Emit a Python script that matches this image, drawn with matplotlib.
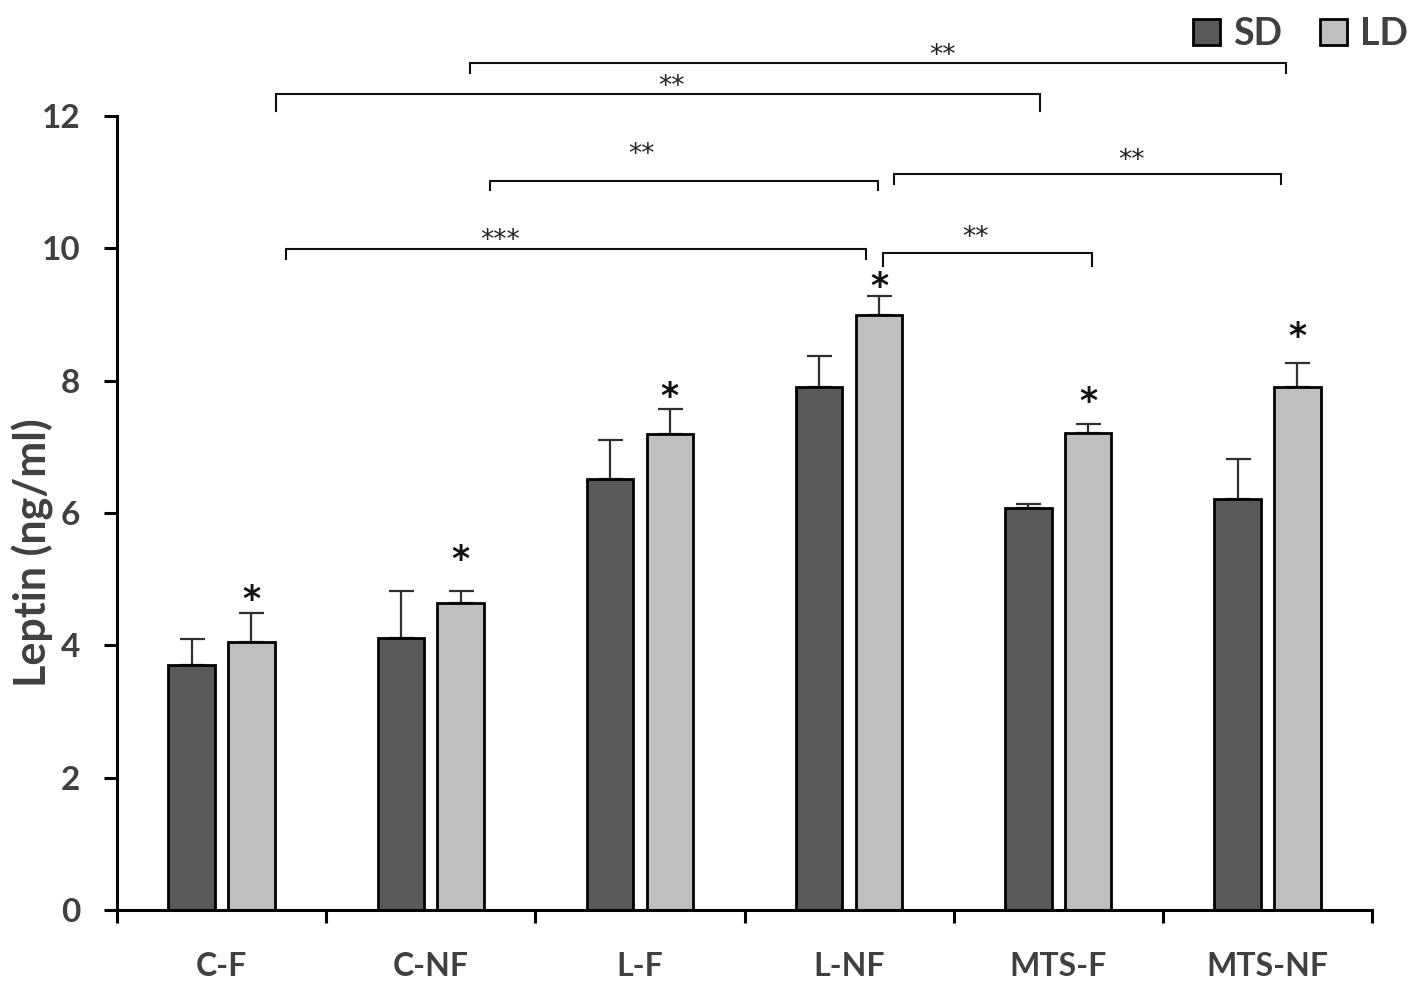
import matplotlib
matplotlib.use("Agg")
import matplotlib.pyplot as plt
from matplotlib.patches import Patch
import numpy as np

# values
groups = ["C-F", "C-NF", "L-F", "L-NF", "MTS-F", "MTS-NF"]
sd_mean = [3.71, 4.11, 6.51, 7.90, 6.07, 6.21]
sd_err = [0.39, 0.71, 0.59, 0.47, 0.07, 0.61]
ld_mean = [4.05, 4.64, 7.19, 8.99, 7.21, 7.90]
ld_err = [0.44, 0.18, 0.38, 0.29, 0.13, 0.37]
ld_star_y = [4.79, 5.40, 7.86, 9.52, 7.78, 8.77]

# brackets: x1, x2, line y, hook depth, label x, label y, label
brackets = [
    (1.188, 5.089, 12.80, 0.15, 3.444, 13.01, "**"),
    (0.260, 3.913, 12.33, 0.26, 2.153, 12.54, "**"),
    (1.283, 3.138, 11.02, 0.14, 2.005, 11.52, "**"),
    (3.215, 5.065, 11.12, 0.15, 4.348, 11.43, "**"),
    (0.308, 3.081, 9.99, 0.15, 1.331, 10.22, "***"),
    (3.162, 4.161, 9.93, 0.20, 3.602, 10.26, "**"),
]

dark = "#595959"
light = "#bfbfbf"
txt = "#404040"
plt.rcParams['font.family'] = ['Lato', 'DejaVu Sans']

fig = plt.figure(figsize=(14.17, 9.89), dpi=100)
W, H = 1417, 989
ax = fig.add_axes([117 / W, 1 - 910 / H, (1372 - 117) / W, (910 - 116) / H])

x = np.arange(len(groups))
off = 0.143
bw = 0.222
ax.bar(x - off, sd_mean, bw, color=dark, edgecolor="black", linewidth=2, zorder=2)
ax.bar(x + off, ld_mean, bw, color=light, edgecolor="black", linewidth=2, zorder=2)
ax.errorbar(x - off, sd_mean, yerr=[np.zeros(len(x)), sd_err], fmt="none",
            ecolor="#303030", elinewidth=1.6, capsize=9, capthick=1.6, zorder=1)
ax.errorbar(x + off, ld_mean, yerr=[np.zeros(len(x)), ld_err], fmt="none",
            ecolor="#303030", elinewidth=1.6, capsize=9, capthick=1.6, zorder=1)

# asterisk glyph sits high in its box, so nudge it down a bit
for xi, sy in zip(x, ld_star_y):
    ax.annotate("*", (xi + off, sy), xytext=(0, -5), textcoords="offset points",
                ha="center", va="center", fontsize=25, fontweight="bold",
                family="DejaVu Sans", color="#111111")

for x1, x2, yb, hk, tx, ty, lab in brackets:
    ax.plot([x1, x1, x2, x2], [yb - hk, yb, yb, yb - hk], color="#111111",
            lw=1.5, clip_on=False, solid_joinstyle="miter")
    ax.annotate(lab, (tx, ty), xytext=(0, -5), textcoords="offset points",
                ha="center", va="center", fontsize=19, family="DejaVu Sans",
                color="#222222", annotation_clip=False)

ax.set_xlim(-0.5, 5.5)
ax.set_ylim(0, 12)
ax.set_yticks(np.arange(0, 13, 2))
ax.set_xticks(np.arange(-0.5, 6, 1))
ax.set_xticklabels([])
ax.set_xticks(x, minor=True)
ax.set_xticklabels(groups, minor=True)

for s in ["top", "right"]:
    ax.spines[s].set_visible(False)
for s in ["left", "bottom"]:
    ax.spines[s].set_linewidth(2.2)

ax.tick_params(axis="both", which="major", direction="out", length=9.5, width=2.2)
ax.tick_params(axis="y", labelsize=24, pad=17, labelcolor=txt)
ax.tick_params(axis="x", which="minor", length=0, labelsize=23, pad=30, labelcolor=txt)
for lbl in ax.get_yticklabels() + ax.get_xticklabels(minor=True):
    lbl.set_fontweight("bold")

ax.set_ylabel("Leptin (ng/ml)", fontsize=31, fontweight="bold", color=txt)
ax.yaxis.set_label_coords((54 - 117) / (1372 - 117), (910 - 553) / (910 - 116))

handles = [Patch(facecolor=dark, edgecolor="black", linewidth=2),
           Patch(facecolor=light, edgecolor="black", linewidth=2)]
leg = fig.legend(handles, ["SD", "LD"], loc="upper right", bbox_to_anchor=(1408 / W, 1 - 17 / H),
                 ncol=2, frameon=False, fontsize=27, handlelength=0.72, handleheight=0.72,
                 handletextpad=0.35, columnspacing=1.0, borderpad=0, borderaxespad=0)
for t in leg.get_texts():
    t.set_color(txt)
    t.set_fontweight("bold")

fig.savefig("out.png", dpi=100)
